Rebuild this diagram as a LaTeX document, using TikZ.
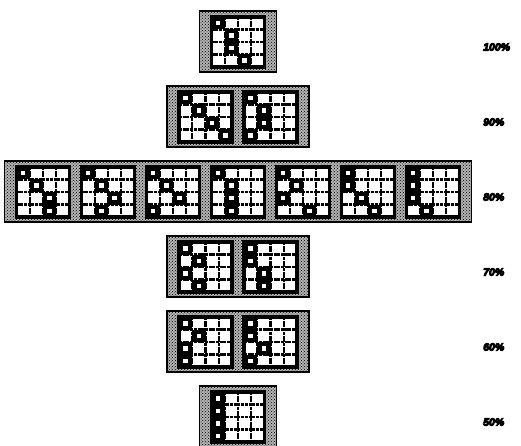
\documentclass[tikz,border=0pt]{standalone}
\usepackage{fontspec}
\setmainfont{Liberation Sans}
\newcommand{\heavytext}[1]{\special{pdf:literal direct 2 Tr 0.9 w}#1\special{pdf:literal direct 0 Tr 1 w}}
\usetikzlibrary{patterns}
\newcommand{\cellgrid}[3]{%
  \begin{scope}[shift={(#1,#2)}]
    \fill[white] (0,0) rectangle (53,50);
    \foreach \rr/\cc in {#3} {
      \fill[black] (\cc*13.25,\rr*12.5) rectangle ++(13.25,12.5);
      \fill[white] (\cc*13.25+4.4,\rr*12.5+4.0) rectangle ++(4.5,4.5);
    }
    \foreach \ii in {1,2,3} {
      \draw[gridline] (\ii*13.25,0) -- (\ii*13.25,50);
      \draw[gridline] (0,\ii*12.5) -- (53,\ii*12.5);
    }
    \draw[gridborder] (0,0) rectangle (53,50);
  \end{scope}}
\begin{document}
\begin{tikzpicture}[x=1pt,y=-1pt,
  gridline/.style={black,line width=2.4pt,dash pattern=on 3pt off 0.7pt},
  gridborder/.style={black,line width=3.2pt},
  stipple/.style={draw=black,line width=1.8pt,preaction={fill=black!30},pattern=crosshatch dots,pattern color=black},
  pct/.style={anchor=west,font=\bfseries\itshape\fontsize{10.5}{12}\selectfont,inner sep=0pt}]
\useasboundingbox (0,0) rectangle (521,446);
\begin{scope}
\clip (0,0) rectangle (521,446);
% 100%
\draw[stipple] (199.5,11) rectangle (276.5,72);
\cellgrid{211.5}{17}{0/0,1/1,2/1,3/2}
% 90%
\draw[stipple] (167,86) rectangle (309,147);
\cellgrid{179}{92}{0/0,1/1,2/2,3/3}
\cellgrid{244}{92}{0/0,1/1,2/1,3/0}
% 80%
\draw[stipple] (4.5,161) rectangle (471.5,222);
\cellgrid{16.5}{167}{0/0,1/1,2/2,3/2}
\cellgrid{81.5}{167}{0/0,1/1,2/2,3/1}
\cellgrid{146.5}{167}{0/0,1/1,2/2,3/0}
\cellgrid{211.5}{167}{0/0,1/1,2/1,3/1}
\cellgrid{276.5}{167}{0/0,1/1,2/0,3/2}
\cellgrid{341.5}{167}{0/0,1/0,2/1,3/2}
\cellgrid{406.5}{167}{0/0,1/0,2/0,3/1}
% 70%
\draw[stipple] (167,236) rectangle (309,297);
\cellgrid{179}{242}{0/0,1/1,2/0,3/1}
\cellgrid{244}{242}{0/0,1/0,2/1,3/1}
% 60%
\draw[stipple] (167,311) rectangle (309,372);
\cellgrid{179}{317}{0/0,1/1,2/0,3/0}
\cellgrid{244}{317}{0/0,1/0,2/1,3/0}
% 50%
\draw[stipple] (199.5,386) rectangle (276.5,447);
\cellgrid{211.5}{392}{0/0,1/0,2/0,3/0}
\end{scope}
\node[pct] (p100) at (483,47) {\heavytext{100\%}};
\node[pct] (p90) at (483,122) {\heavytext{90\%}};
\node[pct] (p80) at (483,197) {\heavytext{80\%}};
\node[pct] (p70) at (483,272) {\heavytext{70\%}};
\node[pct] (p60) at (483,347) {\heavytext{60\%}};
\node[pct] (p50) at (483,422) {\heavytext{50\%}};
\end{tikzpicture}
\end{document}
